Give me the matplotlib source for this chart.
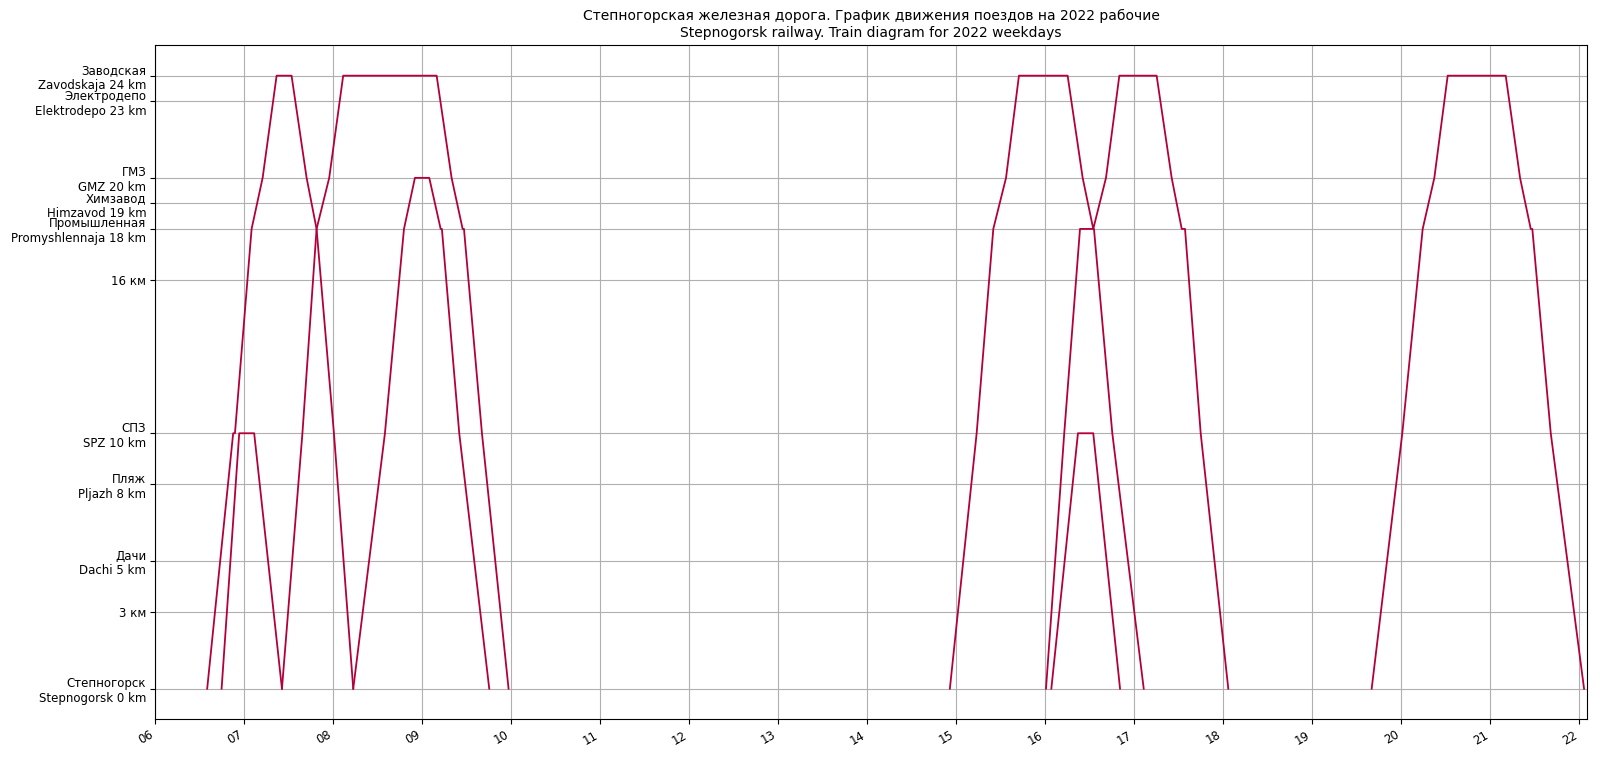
import matplotlib
matplotlib.use("Agg")
import matplotlib.pyplot as plt
from matplotlib.ticker import FixedLocator, FixedFormatter

# Station axis
station_km = [0, 3, 5, 8, 10, 16, 18, 19, 20, 23, 24]
station_labels = [
    "Степногорск\nStepnogorsk 0 km",
    "3 км",
    "Дачи\nDachi 5 km",
    "Пляж\nPljazh 8 km",
    "СПЗ\nSPZ 10 km",
    "16 км",
    "Промышленная\nPromyshlennaja 18 km",
    "Химзавод\nHimzavod 19 km",
    "ГМЗ\nGMZ 20 km",
    "Электродепо\nElektrodepo 23 km",
    "Заводская\nZavodskaja 24 km",
]

hour_ticks = list(range(6, 23))
hour_labels = ["%02d" % h for h in hour_ticks]

# Trains: times (hours) and positions (km)
t1_time = [6.584, 6.876, 6.896, 7.083, 7.207, 7.364, 7.532, 7.701, 7.813, 8.008, 8.225]
t1_km   = [0, 10, 10, 18, 20, 24, 24, 20, 18, 10, 0]

t2_time = [6.746, 6.944, 7.112, 7.424]
t2_km   = [0, 10, 10, 0]

t3_time = [7.424, 7.654, 7.813, 7.955, 8.112, 9.162, 9.330, 9.454, 9.469, 9.671, 9.970]
t3_km   = [0, 10, 18, 20, 24, 24, 20, 18, 18, 10, 0]

t4_time = [8.225, 8.581, 8.795, 8.918, 9.079, 9.207, 9.221, 9.416, 9.753]
t4_km   = [0, 10, 18, 20, 20, 18, 18, 10, 0]

t5_time = [14.928, 15.229, 15.416, 15.559, 15.704, 16.251, 16.420, 16.539,
           16.682, 16.832, 17.251, 17.420, 17.533, 17.570, 17.746, 18.056]
t5_km   = [0, 10, 18, 20, 24, 24, 20, 18,
           20, 24, 24, 20, 18, 18, 10, 0]

t6_time = [16.008, 16.213, 16.390, 16.547, 16.753, 17.106]
t6_km   = [0, 10, 18, 18, 10, 0]

t7_time = [16.068, 16.367, 16.539, 16.840]
t7_km   = [0, 10, 10, 0]

t8_time = [19.667, 20.011, 20.240, 20.371, 20.521, 21.173, 21.334, 21.454, 21.472, 21.679, 22.053]
t8_km   = [0, 10, 18, 20, 24, 24, 20, 18, 18, 10, 0]

trains = [(t1_time, t1_km), (t2_time, t2_km), (t3_time, t3_km), (t4_time, t4_km),
          (t5_time, t5_km), (t6_time, t6_km), (t7_time, t7_km), (t8_time, t8_km)]

fig = plt.figure(figsize=(16, 7.58), dpi=100)
ax = fig.add_axes([0.097, 0.051, 0.8947, 0.8896])

for tt, kk in trains:
    ax.plot(tt, kk, color="#b4003a", linewidth=1.3)

ax.set_xlim(6.0, 22.083)
ax.set_ylim(-1.2, 25.2)

ax.yaxis.set_major_locator(FixedLocator(station_km))
ax.yaxis.set_major_formatter(FixedFormatter(station_labels))
ax.xaxis.set_major_locator(FixedLocator(hour_ticks))
ax.xaxis.set_major_formatter(FixedFormatter(hour_labels))

ax.tick_params(labelsize=8.5, pad=3)
for lbl in ax.get_xticklabels():
    lbl.set_rotation(30)
    lbl.set_ha("right")

ax.grid(True, color="#b0b0b0", linewidth=0.8)

ax.set_title("Степногорская железная дорога. График движения поездов на 2022 рабочие\n"
             "Stepnogorsk railway. Train diagram for 2022 weekdays", fontsize=10)

fig.savefig("out.png", dpi=100)
